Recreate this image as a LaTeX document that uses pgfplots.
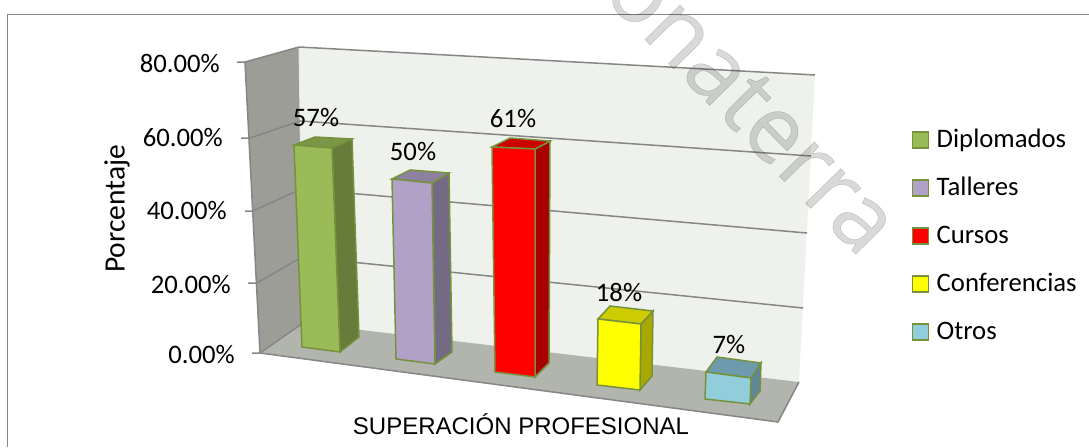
\documentclass[border=0pt]{standalone}
\usepackage{pgfplots}
\pgfplotsset{compat=1.18}
\usepackage{fontspec}
\setmainfont{Carlito}
\newfontfamily\arialf{Liberation Sans}
\newfontfamily\wmf[FakeBold=0.6]{Open Sans}
\definecolor{wall}{RGB}{155,157,150}
\definecolor{floorc}{RGB}{178,180,174}
\definecolor{backw}{RGB}{239,242,236}
\definecolor{gridc}{RGB}{134,134,134}
\definecolor{edge}{RGB}{118,146,60}
\definecolor{g1}{RGB}{155,187,89}\definecolor{g2}{RGB}{124,150,71}\definecolor{g3}{RGB}{103,124,59}
\definecolor{p1}{RGB}{178,161,199}\definecolor{p2}{RGB}{142,128,159}\definecolor{p3}{RGB}{117,106,131}
\definecolor{r1}{RGB}{255,0,0}\definecolor{r2}{RGB}{204,0,0}\definecolor{r3}{RGB}{168,0,0}
\definecolor{y1}{RGB}{255,255,0}\definecolor{y2}{RGB}{204,204,0}\definecolor{y3}{RGB}{168,168,0}
\definecolor{b1}{RGB}{146,205,220}\definecolor{b2}{RGB}{109,154,172}\definecolor{b3}{RGB}{96,135,150}
\begin{document}
\begin{tikzpicture}[x=1pt,y=1pt]
\path[use as bounding box] (0,0) rectangle (1089pt,447pt);
\begin{axis}[
  at={(0pt,0pt)},anchor=south west,
  width=1089pt,height=447pt,scale only axis,
  xmin=0,xmax=1089,ymin=0,ymax=447,y dir=reverse,
  hide axis,clip=false,
  legend style={at={(axis cs:911.5,116)},anchor=north west,draw=none,fill=none,
    font=\fontsize{26.7}{28}\selectfont,row sep=0pt,inner sep=0pt,
    nodes={text height=25pt,text depth=11pt,inner xsep=4.5pt,inner ysep=6pt,anchor=west},
    /tikz/every odd column/.style={}},
  legend cell align=left,
  legend image code/.code={\draw[#1] (0pt,-8pt) rectangle (16pt,8pt);\path (19pt,0pt);},
]
% frame (left and top edges)
\addplot[draw=gridc,line width=1.3pt,forget plot] coordinates {(7.5,447) (7.5,14.5) (1089,14.5)};
% walls and floor
\addplot[fill=wall,draw=none,forget plot] coordinates {(245,62) (299,47) (303,323) (260,353)} --cycle;
\addplot[fill=backw,draw=none,forget plot] coordinates {(299,47) (815,75) (799,382) (303,323)} --cycle;
\addplot[fill=floorc,draw=none,forget plot] coordinates {(260,353) (303,323) (799,382) (778,422)} --cycle;
\addplot[draw=white!80!gridc,line width=1pt,forget plot] coordinates {(299,47) (303,323)};
% gridlines on the back wall
\foreach \a/\b/\c/\d in {299/47/815/75, 300/121/811/156, 301/189/807/233, 302/257/803/308}{
  \edef\tmp{\noexpand\addplot[draw=gridc,line width=1.5pt,forget plot] coordinates {(\a,\b) (\c,\d)};}\tmp
}
\addplot[draw=gridc,line width=1.5pt,forget plot] coordinates {(237,62) (245,62) (299,47)};
\addplot[draw=gridc,line width=1.5pt,forget plot] coordinates {(241,138) (250,138) (300,121)};
\addplot[draw=gridc,line width=1.5pt,forget plot] coordinates {(245,211) (253,211) (301,189)};
\addplot[draw=gridc,line width=1.5pt,forget plot] coordinates {(248,283) (257,283) (302,257)};
\addplot[draw=gridc,line width=1.5pt,forget plot] coordinates {(252,353) (260,353) (303,323)};
\addplot[draw=gridc,line width=1.5pt,forget plot] coordinates {(245,62) (260,353) (778,422) (799,382)};
% Bar 1 Diplomados
\addplot[fill=g3,draw=edge,line width=1.5pt,forget plot] coordinates {(332,148) (352,139) (359,337) (340,352)} --cycle;
\addplot[fill=g2,draw=edge,line width=1.5pt,forget plot] coordinates {(294,145) (315,137) (352,139) (332,148)} --cycle;
\addplot[fill=g1,draw=edge,line width=1.5pt,forget plot] coordinates {(294,145) (332,148) (340,352) (302,347)} --cycle;
% Bar 2 Talleres
\addplot[fill=p3,draw=edge,line width=1.5pt,forget plot] coordinates {(432,183) (449,173) (452,352) (435,364)} --cycle;
\addplot[fill=p2,draw=edge,line width=1.5pt,forget plot] coordinates {(392,179) (410,170) (449,173) (432,183)} --cycle;
\addplot[fill=p1,draw=edge,line width=1.5pt,forget plot] coordinates {(392,179) (432,183) (435,364) (396,359)} --cycle;
% Bar 3 Cursos
\addplot[fill=r3,draw=edge,line width=1.5pt,forget plot] coordinates {(535,149) (550,141) (549,363) (535,377)} --cycle;
\addplot[fill=r2,draw=edge,line width=1.5pt,forget plot] coordinates {(492,147) (510,138) (550,141) (535,149)} --cycle;
\addplot[fill=r1,draw=edge,line width=1.5pt,forget plot] coordinates {(492,147) (535,149) (535,377) (495,372)} --cycle;
% Bar 4 Conferencias
\addplot[fill=y3,draw=edge,line width=1.5pt,forget plot] coordinates {(641,324) (653,311) (652,376) (640,390)} --cycle;
\addplot[fill=y2,draw=edge,line width=1.5pt,forget plot] coordinates {(598,319) (610,306) (653,311) (641,324)} --cycle;
\addplot[fill=y1,draw=edge,line width=1.5pt,forget plot] coordinates {(598,319) (641,324) (640,390) (597,385)} --cycle;
% Bar 5 Otros
\addplot[fill=b3,draw=edge,line width=1.5pt,forget plot] coordinates {(751,378) (761,363) (760,391) (750,404)} --cycle;
\addplot[fill=b2,draw=edge,line width=1.5pt,forget plot] coordinates {(706,372) (717,357) (761,363) (751,378)} --cycle;
\addplot[fill=b1,draw=edge,line width=1.5pt,forget plot] coordinates {(706,372) (751,378) (750,404) (705,399)} --cycle;
% legend
\addlegendimage{fill=g1,draw=edge,line width=1.5pt}\addlegendentry{Diplomados}
\addlegendimage{fill=p1,draw=edge,line width=1.5pt}\addlegendentry{Talleres}
\addlegendimage{fill=r1,draw=edge,line width=1.5pt}\addlegendentry{Cursos}
\addlegendimage{fill=y1,draw=edge,line width=1.5pt}\addlegendentry{Conferencias}
\addlegendimage{fill=b1,draw=edge,line width=1.5pt}\addlegendentry{Otros}
% value labels
\tikzset{lab/.style={font=\fontsize{26.7}{28}\selectfont,inner sep=0pt}}
\node[lab] at (axis cs:316,118) {57\%};
\node[lab] at (axis cs:413,152) {50\%};
\node[lab] at (axis cs:513,119) {61\%};
\node[lab] at (axis cs:619,292) {18\%};
\node[lab] at (axis cs:729,344) {7\%};
% tick labels
\node[lab,anchor=east] at (axis cs:220,63) {80.00\%};
\node[lab,anchor=east] at (axis cs:223,138) {60.00\%};
\node[lab,anchor=east] at (axis cs:227,211) {40.00\%};
\node[lab,anchor=east] at (axis cs:231,284) {20.00\%};
\node[lab,anchor=east] at (axis cs:235,354) {0.00\%};
% axis titles
\node[inner sep=0pt,rotate=90,font=\fontsize{29.5}{31}\selectfont] at (axis cs:117,209) {Porcentaje};
\node[inner sep=0pt,font=\arialf\fontsize{24}{26}\selectfont] at (axis cs:521,424) {SUPERACIÓN PROFESIONAL};
% watermark
\node[inner sep=0pt,rotate=-45.5,text=black,text opacity=0.15,font=\wmf\fontsize{92}{94}\selectfont] at (axis cs:752,106) {onaterra};
\end{axis}
\end{tikzpicture}
\end{document}
